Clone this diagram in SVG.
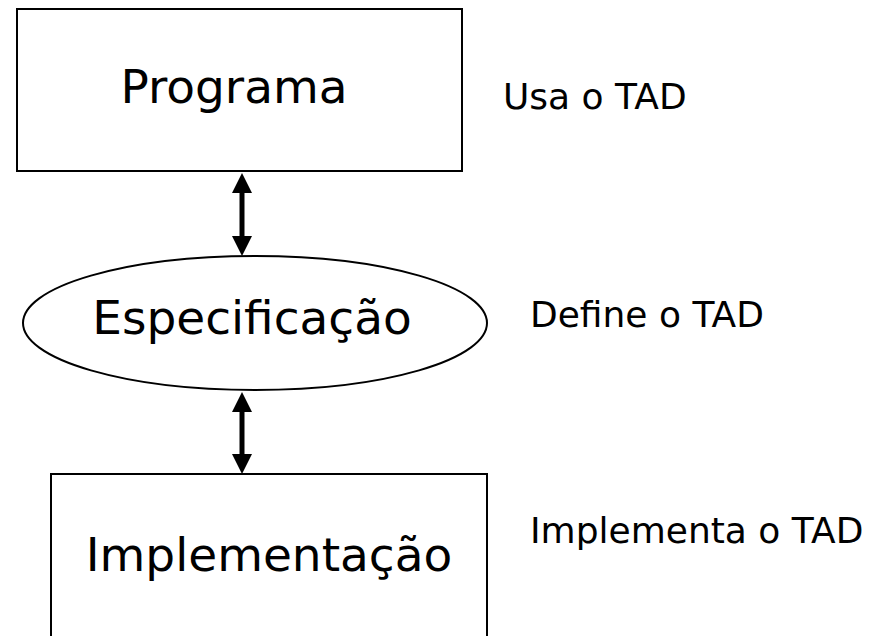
<svg xmlns="http://www.w3.org/2000/svg" width="878" height="636" viewBox="0 0 878 636">
<style>
.box{fill:#fff;stroke:#000;stroke-width:2}
.big{font-family:"DejaVu Sans",Verdana,sans-serif;font-size:47px;fill:#000;text-anchor:middle}
.lbl{font-family:"DejaVu Sans",Verdana,sans-serif;font-size:36px;fill:#000}
.shaft{stroke:#000;stroke-width:5;fill:none}
.head{fill:#000}
</style>
<rect width="878" height="636" fill="#fff"/>
<g id="programa">
<rect class="box" x="17" y="9" width="445" height="162"/>
<text class="big" x="234" y="103">Programa</text>
</g>
<g id="especificacao">
<ellipse class="box" cx="255" cy="323" rx="232" ry="67"/>
<text class="big" x="252" y="334">Especificação</text>
</g>
<g id="implementacao">
<rect class="box" x="51" y="474" width="436" height="180"/>
<text class="big" x="269" y="571">Implementação</text>
</g>
<g id="labels">
<text class="lbl" x="503" y="109">Usa o TAD</text>
<text class="lbl" x="530" y="327">Define o TAD</text>
<text class="lbl" x="530" y="543">Implementa o TAD</text>
</g>
<g id="connectors">
<line class="shaft" x1="242" y1="188" x2="242" y2="241"/>
<polygon class="head" points="242,173 252,193 232,193"/>
<polygon class="head" points="242,256 252,236 232,236"/>
<line class="shaft" x1="242" y1="407" x2="242" y2="459"/>
<polygon class="head" points="242,392 252,412 232,412"/>
<polygon class="head" points="242,474 252,454 232,454"/>
</g>
</svg>
